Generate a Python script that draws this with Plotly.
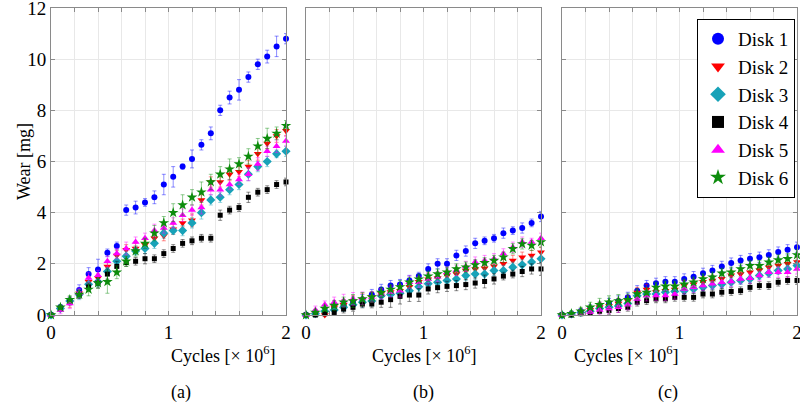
import plotly.graph_objects as go

cycles = [0.0, 0.08, 0.16, 0.24, 0.32, 0.40, 0.48, 0.56, 0.64, 0.72, 0.80, 0.88, 0.96,
          1.04, 1.12, 1.20, 1.28, 1.36, 1.44, 1.52, 1.60, 1.68, 1.76, 1.84, 1.92, 2.00]

disk_names = ["Disk 1", "Disk 2", "Disk 3", "Disk 4", "Disk 5", "Disk 6"]
panel_labels = ["(a)", "(b)", "(c)"]
x_tick_vals = [0, 0.2, 0.4, 0.6, 0.8, 1.0, 1.2, 1.4, 1.6, 1.8, 2.0]
x_tick_text = ["0", "", "", "", "", "1", "", "", "", "", "2"]
y_tick_vals = [0, 2, 4, 6, 8, 10, 12]
y_tick_text = ["0", "2", "4", "6", "8", "10", "12"]

# ---- panel (a) ----
a_disk1 = [0, 0.3, 0.55, 0.98, 1.6, 1.78, 2.43, 2.7, 4.1, 4.2, 4.4, 4.6, 5.1, 5.4, 5.8, 6.1, 6.65, 7.1, 8.0, 8.5, 8.8, 9.3, 9.8, 10.1, 10.5, 10.8]
a_disk2 = [0, 0.25, 0.5, 0.85, 1.3, 1.45, 1.9, 2.33, 2.55, 2.6, 2.75, 3.0, 3.1, 3.35, 3.6, 3.7, 4.5, 5.2, 5.2, 5.5, 5.6, 5.8, 6.3, 6.7, 7.0, 7.2]
a_disk3 = [0, 0.25, 0.55, 0.8, 1.2, 1.3, 1.7, 2.1, 2.3, 2.5, 2.6, 2.8, 3.2, 3.3, 3.3, 3.6, 4.0, 4.5, 4.6, 4.9, 5.1, 5.5, 5.8, 6.0, 6.3, 6.4]
a_disk4 = [0, 0.25, 0.5, 0.8, 1.1, 1.25, 1.6, 1.9, 2.05, 2.1, 2.2, 2.2, 2.4, 2.6, 2.8, 2.9, 3.0, 3.0, 3.9, 4.1, 4.2, 4.6, 4.8, 4.9, 5.1, 5.2]
a_disk5 = [0, 0.2, 0.45, 0.85, 1.45, 1.55, 2.1, 2.4, 2.6, 2.85, 3.0, 3.3, 3.4, 3.6, 3.9, 4.1, 4.2, 4.9, 4.9, 5.1, 5.3, 5.5, 5.9, 6.4, 6.6, 6.8]
a_disk6 = [0, 0.3, 0.6, 0.8, 1.0, 1.25, 1.3, 1.67, 2.1, 2.5, 2.8, 3.2, 3.6, 4.0, 4.3, 4.6, 4.8, 5.2, 5.5, 5.7, 5.9, 6.2, 6.6, 6.9, 7.1, 7.4]

a_err1 = [0.02, 0.1, 0.15, 0.2, 0.25, 0.4, 0.15, 0.15, 0.2, 0.25, 0.15, 0.25, 0.4, 0.4, 0.1, 0.35, 0.2, 0.25, 0.2, 0.25, 0.4, 0.2, 0.2, 0.25, 0.4, 0.2]
a_err2 = [0.05, 0.1, 0.2, 0.15, 0.2, 0.15, 0.15, 0.2, 0.2, 0.2, 0.15, 0.15, 0.2, 0.2, 0.15, 0.25, 0.2, 0.2, 0.2, 0.25, 0.2, 0.25, 0.25, 0.2, 0.25, 0.2]
a_err3 = [0.05, 0.1, 0.15, 0.2, 0.2, 0.2, 0.15, 0.2, 0.2, 0.15, 0.2, 0.2, 0.2, 0.15, 0.2, 0.2, 0.25, 0.2, 0.2, 0.2, 0.2, 0.25, 0.2, 0.2, 0.15, 0.2]
a_err4 = [0.05, 0.1, 0.1, 0.15, 0.15, 0.2, 0.2, 0.2, 0.15, 0.15, 0.2, 0.15, 0.15, 0.15, 0.15, 0.15, 0.15, 0.15, 0.2, 0.15, 0.15, 0.2, 0.15, 0.15, 0.15, 0.15]
a_err5 = [0.05, 0.15, 0.2, 0.2, 0.2, 0.2, 0.2, 0.2, 0.25, 0.2, 0.2, 0.25, 0.2, 0.2, 0.25, 0.2, 0.25, 0.2, 0.25, 0.2, 0.2, 0.25, 0.25, 0.2, 0.25, 0.2]
a_err6 = [0.05, 0.1, 0.15, 0.15, 0.25, 0.2, 0.45, 0.25, 0.2, 0.2, 0.2, 0.3, 0.25, 0.35, 0.4, 0.3, 0.4, 0.3, 0.3, 0.4, 0.25, 0.3, 0.3, 0.4, 0.25, 0.2]

# ---- panel (b) ----
b_disk1 = [0, 0.05, 0.15, 0.3, 0.4, 0.5, 0.6, 0.8, 1.0, 1.15, 1.19, 1.35, 1.52, 1.8, 2.0, 2.0, 2.33, 2.5, 2.8, 2.9, 3.0, 3.2, 3.3, 3.4, 3.6, 3.85]
b_disk2 = [0, 0.05, 0.0, 0.3, 0.4, 0.55, 0.6, 0.7, 0.82, 0.9, 0.95, 1.1, 1.3, 1.4, 1.45, 1.55, 1.6, 1.74, 1.8, 1.83, 1.91, 2.0, 2.13, 2.26, 2.33, 2.45]
b_disk3 = [0, 0.05, 0.15, 0.2, 0.3, 0.4, 0.5, 0.55, 0.75, 0.8, 0.85, 0.95, 1.1, 1.22, 1.28, 1.35, 1.41, 1.54, 1.6, 1.6, 1.74, 1.74, 1.87, 1.96, 2.07, 2.2]
b_disk4 = [0, 0.0, 0.05, 0.1, 0.23, 0.3, 0.43, 0.43, 0.5, 0.6, 0.73, 0.78, 0.78, 1.02, 1.07, 1.12, 1.15, 1.19, 1.25, 1.31, 1.41, 1.52, 1.6, 1.7, 1.8, 1.8]
b_disk5 = [0, 0.2, 0.4, 0.5, 0.56, 0.63, 0.65, 0.7, 0.82, 0.9, 0.95, 1.28, 1.28, 1.41, 1.5, 1.67, 1.75, 1.9, 2.07, 2.13, 2.2, 2.39, 2.65, 2.85, 2.85, 3.0]
b_disk6 = [0, 0.1, 0.25, 0.37, 0.5, 0.55, 0.63, 0.7, 0.88, 1.0, 1.1, 1.28, 1.4, 1.52, 1.6, 1.67, 1.8, 1.87, 1.96, 2.04, 2.13, 2.26, 2.59, 2.78, 2.72, 2.85]

b_err1 = [0.02, 0.1, 0.15, 0.15, 0.2, 0.2, 0.2, 0.2, 0.2, 0.2, 0.2, 0.2, 0.15, 0.2, 0.2, 0.2, 0.2, 0.2, 0.2, 0.15, 0.15, 0.2, 0.15, 0.2, 0.15, 0.2]
b_err2 = [0.05, 0.1, 0.1, 0.15, 0.2, 0.2, 0.25, 0.2, 0.2, 0.25, 0.2, 0.2, 0.2, 0.25, 0.2, 0.2, 0.25, 0.2, 0.2, 0.25, 0.2, 0.2, 0.2, 0.2, 0.2, 0.2]
b_err3 = [0.05, 0.1, 0.1, 0.15, 0.15, 0.15, 0.2, 0.2, 0.15, 0.15, 0.2, 0.2, 0.2, 0.2, 0.2, 0.2, 0.2, 0.2, 0.2, 0.2, 0.2, 0.2, 0.2, 0.2, 0.2, 0.2]
b_err4 = [0.05, 0.05, 0.1, 0.1, 0.15, 0.15, 0.15, 0.15, 0.2, 0.3, 0.3, 0.25, 0.25, 0.2, 0.2, 0.2, 0.2, 0.2, 0.2, 0.25, 0.2, 0.15, 0.15, 0.2, 0.2, 0.25]
b_err5 = [0.05, 0.15, 0.15, 0.2, 0.25, 0.25, 0.25, 0.2, 0.2, 0.2, 0.25, 0.25, 0.2, 0.2, 0.2, 0.2, 0.2, 0.2, 0.2, 0.2, 0.2, 0.2, 0.2, 0.2, 0.15, 0.2]
b_err6 = [0.05, 0.1, 0.1, 0.2, 0.2, 0.25, 0.25, 0.2, 0.2, 0.2, 0.25, 0.2, 0.2, 0.2, 0.2, 0.2, 0.2, 0.2, 0.2, 0.2, 0.2, 0.2, 0.2, 0.2, 0.2, 0.2]

# ---- panel (c) ----
c_disk1 = [0, 0.05, 0.15, 0.25, 0.35, 0.45, 0.55, 0.69, 0.95, 1.15, 1.24, 1.3, 1.3, 1.41, 1.5, 1.63, 1.74, 1.9, 2.03, 2.13, 2.2, 2.26, 2.35, 2.46, 2.55, 2.65]
c_disk2 = [0, 0.05, 0.12, 0.2, 0.3, 0.35, 0.45, 0.55, 0.88, 1.0, 0.9, 0.95, 1.0, 1.15, 1.2, 1.3, 1.35, 1.42, 1.55, 1.6, 1.67, 1.76, 1.87, 1.93, 2.0, 2.07]
c_disk3 = [0, 0.04, 0.1, 0.15, 0.25, 0.3, 0.35, 0.45, 0.75, 0.82, 0.82, 0.89, 0.92, 0.95, 1.02, 1.08, 1.15, 1.2, 1.28, 1.35, 1.41, 1.54, 1.63, 1.74, 1.8, 1.93]
c_disk4 = [0, 0.0, 0.05, 0.1, 0.15, 0.18, 0.25, 0.3, 0.5, 0.56, 0.63, 0.63, 0.69, 0.69, 0.69, 0.82, 0.82, 0.89, 0.92, 0.95, 1.08, 1.15, 1.15, 1.28, 1.35, 1.35]
c_disk5 = [0, 0.03, 0.08, 0.12, 0.2, 0.25, 0.3, 0.4, 0.63, 0.75, 0.76, 0.76, 0.82, 1.02, 1.08, 1.15, 1.22, 1.28, 1.31, 1.41, 1.44, 1.54, 1.67, 1.67, 1.67, 1.8]
c_disk6 = [0, 0.05, 0.15, 0.3, 0.4, 0.5, 0.55, 0.6, 0.82, 0.88, 1.08, 1.12, 1.12, 1.2, 1.28, 1.41, 1.48, 1.63, 1.67, 1.8, 1.93, 1.93, 2.06, 2.15, 2.2, 2.35]

c_err1 = [0.02, 0.05, 0.1, 0.15, 0.15, 0.2, 0.2, 0.2, 0.2, 0.2, 0.2, 0.2, 0.2, 0.2, 0.2, 0.2, 0.2, 0.2, 0.2, 0.2, 0.2, 0.2, 0.2, 0.2, 0.2, 0.2]
c_err2 = [0.05, 0.1, 0.1, 0.15, 0.2, 0.2, 0.2, 0.2, 0.2, 0.2, 0.2, 0.2, 0.2, 0.2, 0.2, 0.2, 0.2, 0.2, 0.2, 0.2, 0.2, 0.2, 0.2, 0.2, 0.2, 0.2]
c_err3 = [0.05, 0.05, 0.1, 0.1, 0.15, 0.15, 0.15, 0.15, 0.15, 0.15, 0.15, 0.15, 0.15, 0.15, 0.15, 0.15, 0.15, 0.15, 0.15, 0.15, 0.15, 0.15, 0.15, 0.15, 0.15, 0.15]
c_err4 = [0.05, 0.05, 0.1, 0.1, 0.1, 0.15, 0.15, 0.15, 0.15, 0.15, 0.15, 0.15, 0.15, 0.15, 0.15, 0.15, 0.15, 0.15, 0.15, 0.15, 0.15, 0.15, 0.15, 0.15, 0.15, 0.15]
c_err5 = [0.05, 0.1, 0.15, 0.2, 0.2, 0.2, 0.2, 0.2, 0.2, 0.2, 0.2, 0.2, 0.2, 0.2, 0.2, 0.2, 0.2, 0.2, 0.2, 0.2, 0.2, 0.2, 0.2, 0.2, 0.2, 0.2]
c_err6 = [0.05, 0.1, 0.15, 0.2, 0.25, 0.25, 0.25, 0.25, 0.2, 0.2, 0.2, 0.2, 0.2, 0.2, 0.2, 0.2, 0.2, 0.2, 0.2, 0.2, 0.2, 0.2, 0.2, 0.2, 0.2, 0.2]

panels = [
    ([a_disk1, a_disk2, a_disk3, a_disk4, a_disk5, a_disk6], [a_err1, a_err2, a_err3, a_err4, a_err5, a_err6]),
    ([b_disk1, b_disk2, b_disk3, b_disk4, b_disk5, b_disk6], [b_err1, b_err2, b_err3, b_err4, b_err5, b_err6]),
    ([c_disk1, c_disk2, c_disk3, c_disk4, c_disk5, c_disk6], [c_err1, c_err2, c_err3, c_err4, c_err5, c_err6]),
]

colors = ["#0000ff", "#ff0000", "#17a2b8", "#000000", "#ff00ff", "#0c8c0c"]
err_colors = ["rgba(0,0,255,0.45)", "rgba(255,0,0,0.45)", "rgba(23,162,184,0.45)",
              "rgba(0,0,0,0.45)", "rgba(255,0,255,0.45)", "rgba(12,140,12,0.45)"]
symbols = ["circle", "triangle-down", "diamond", "square", "triangle-up", "star"]
sizes = [6, 7, 7, 5, 7, 8]

FONT = "Times New Roman, Liberation Serif, DejaVu Serif, serif"
W, H = 800, 414
x_domains = [[51/W, 286/W], [306/W, 541/W], [562/W, 797/W]]
y_domain = [1 - 315/H, 1 - 8/H]

fig = go.Figure()
for p, (series, errs) in enumerate(panels):
    xa = "x" if p == 0 else f"x{p+1}"
    ya = "y" if p == 0 else f"y{p+1}"
    for k in range(6):
        fig.add_trace(go.Scatter(
            x=cycles, y=series[k], mode="markers", name=disk_names[k],
            xaxis=xa, yaxis=ya, showlegend=(p == 2), cliponaxis=False,
            marker=dict(symbol=symbols[k], color=colors[k], size=sizes[k], line=dict(width=0)),
            error_y=dict(type="data", array=errs[k], visible=True, color=err_colors[k],
                         thickness=1, width=2),
        ))

axis_common = dict(showline=True, linecolor="#8a8a8a", linewidth=1, mirror="ticks",
                   ticks="inside", ticklen=4, tickcolor="#8a8a8a", automargin=False,
                   ticklabeloverflow="allow",
                   showgrid=True, gridcolor="#e8e8e8", gridwidth=1, zeroline=False,
                   tickfont=dict(family=FONT, size=19, color="#000"))

layout = dict(
    width=W, height=H, margin=dict(l=0, r=0, t=0, b=0, autoexpand=False),
    paper_bgcolor="white", plot_bgcolor="white",
    font=dict(family=FONT, size=18, color="#000"),
    legend=dict(x=795/W, y=1 - 19/H, xanchor="right", yanchor="top",
                bgcolor="white", bordercolor="#000", borderwidth=1,
                font=dict(family=FONT, size=19, color="#000"),
                itemsizing="constant"),
)
for p in range(3):
    xk = "xaxis" if p == 0 else f"xaxis{p+1}"
    yk = "yaxis" if p == 0 else f"yaxis{p+1}"
    ya = "y" if p == 0 else f"y{p+1}"
    xa = "x" if p == 0 else f"x{p+1}"
    layout[xk] = dict(axis_common, domain=x_domains[p], range=[0, 2], anchor=ya,
                      tickmode="array", tickvals=x_tick_vals, ticktext=x_tick_text)
    layout[yk] = dict(axis_common, domain=y_domain, range=[0, 12], anchor=xa,
                      tickmode="array", tickvals=y_tick_vals,
                      ticktext=y_tick_text if p == 0 else [""] * len(y_tick_vals))
fig.update_layout(**layout)

for p in range(3):
    cx = (x_domains[p][0] + x_domains[p][1]) / 2
    fig.add_annotation(x=cx, y=(H - 368) / H, xref="paper", yref="paper",
                       text="Cycles [× 10<sup>6</sup>]", showarrow=False,
                       font=dict(family=FONT, size=18, color="#000"))
    fig.add_annotation(x=cx, y=(H - 405) / H, xref="paper", yref="paper",
                       text=panel_labels[p], showarrow=False,
                       font=dict(family=FONT, size=18, color="#000"))
fig.add_annotation(x=12/W, y=(H - 162) / H, xref="paper", yref="paper",
                   text="Wear [mg]", showarrow=False, textangle=-90,
                   font=dict(family=FONT, size=18, color="#000"))

fig.write_html("out.html", config={"displayModeBar": False},
               post_script="document.body.style.margin='0';document.body.style.overflow='hidden';")
